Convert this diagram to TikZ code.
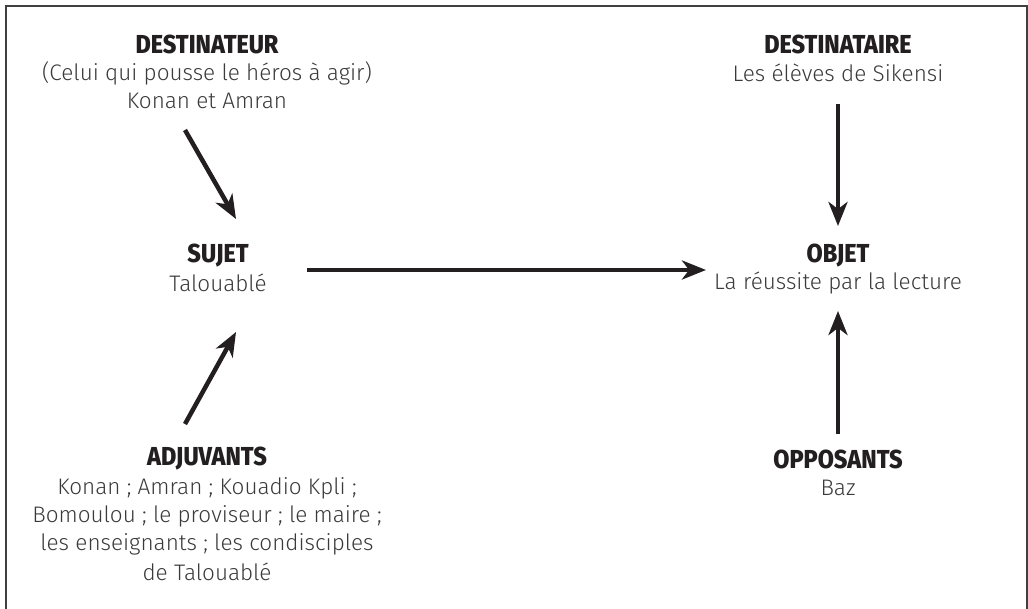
\documentclass[tikz,border=0pt]{standalone}
\usepackage{fontspec}
\setmainfont{Fira Sans}[UprightFont={* Light}]
\newfontfamily\headfont{Fira Sans}[UprightFont={* ExtraBold}, FakeStretch=0.9]
\usetikzlibrary{arrows.meta}
\definecolor{ink}{HTML}{231F20}
\definecolor{txt}{HTML}{3A3A3A}
\begin{document}
\begin{tikzpicture}[x=1pt,y=-1pt,
  head/.style={font=\headfont\fontsize{26}{30}\selectfont, text=ink, inner sep=0pt, anchor=center},
  body/.style={font=\fontsize{22.5}{28}\selectfont, text=txt, inner sep=0pt, anchor=center, align=center},
  arr/.style={draw=ink, line width=4.5pt, -{Stealth[length=24pt,width=19pt,inset=7pt]}}]
\useasboundingbox (0,0) rectangle (1028,609);
\draw[line width=1.5pt, draw=black!75] (6,609) -- (6,6) -- (1027,6) -- (1027,609);
% texts
\node[head] (dh) at (207,44) {DESTINATEUR};
\node[body] (d1) at (207,73) {(Celui qui pousse le héros à agir)};
\node[body] (d2) at (207,101) {Konan et Amran};
\node[head] (ah) at (838,44) {DESTINATAIRE};
\node[body] (a1) at (838,73) {Les élèves de Sikensi};
\node[head] (sh) at (218,256) {SUJET};
\node[body] (s1) at (218,283) {Talouablé};
\node[head] (oh) at (838,256) {OBJET};
\node[body] (o1) at (838,283) {La réussite par la lecture};
\node[head] (jh) at (207,459) {ADJUVANTS};
\node[body] (j1) at (207,488) {Konan ; Amran ; Kouadio Kpli ;};
\node[body] (j2) at (207,516) {Bomoulou ; le proviseur ; le maire ;};
\node[body] (j3) at (207,544) {les enseignants ; les condisciples};
\node[body] (j4) at (207,572) {de Talouablé};
\node[head] (ph) at (838,459) {OPPOSANTS};
\node[body] (p1) at (838,488) {Baz};
% anchor coordinates for arrows
\coordinate (c1a) at (185,130); \coordinate (c1b) at (236,219);
\coordinate (c2a) at (838,104); \coordinate (c2b) at (838,226);
\coordinate (c3a) at (307,270); \coordinate (c3b) at (706,270);
\coordinate (c4a) at (185,424); \coordinate (c4b) at (236,332);
\coordinate (c5a) at (838,434); \coordinate (c5b) at (838,311);
\draw[arr] (c1a) -- (c1b);
\draw[arr] (c2a) -- (c2b);
\draw[arr] (c3a) -- (c3b);
\draw[arr] (c4a) -- (c4b);
\draw[arr] (c5a) -- (c5b);
\end{tikzpicture}
\end{document}
